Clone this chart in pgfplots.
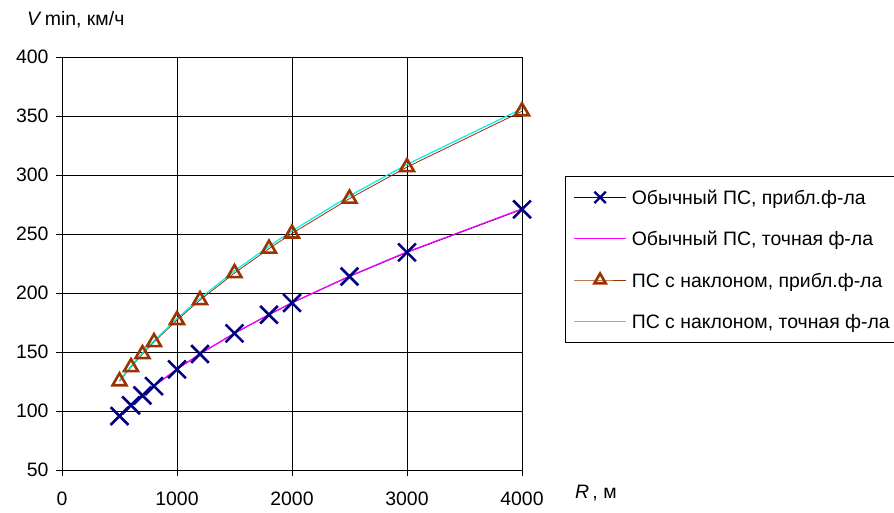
\documentclass[border=0pt]{standalone}
\usepackage{pgfplots}
\pgfplotsset{compat=1.18}
\usepackage{fontspec}
\setmainfont{Liberation Sans}
\definecolor{navyc}{RGB}{0,0,128}
\definecolor{brownc}{RGB}{153,51,0}
\definecolor{magc}{RGB}{255,0,255}
\definecolor{cyanc}{RGB}{0,240,240}
\begin{document}
\begin{tikzpicture}
\begin{axis}[
 scale only axis, width=460bp, height=413bp,
 xmin=0, xmax=4000, ymin=50, ymax=400,
 xtick={0,1000,2000,3000,4000}, ytick={50,100,...,400},
 grid=major, major grid style={black, line width=0.7bp},
 axis line style={black, line width=0.8bp},
 tick align=outside, major tick length=6bp, tick style={black, line width=0.8bp},
 xtick pos=left, ytick pos=left,
 font=\fontsize{19.5}{23}\selectfont,
 xticklabel style={yshift=-12bp},
 yticklabel style={xshift=-4bp},
 /pgf/number format/assume math mode=true,
 /pgf/number format/1000 sep={},
 clip=false,
 legend cell align=left,
 legend image code/.code={\draw[mark repeat=2,mark phase=2,#1] plot coordinates {(0bp,0bp)(26bp,0bp)(52bp,0bp)};},
 legend style={at={(rel axis cs:1,1)}, anchor=north west, xshift=43bp, yshift=-119bp,
   draw=black, line width=0.8bp, inner xsep=8bp, inner ysep=12bp,
   font=\fontsize{19.5}{23}\selectfont, row sep=23.3bp,
   nodes={inner xsep=5bp, inner ysep=0bp, text height=16bp, text depth=2bp}},
]
\addplot[draw=navyc, color=navyc, line width=0.8bp, mark=x, mark size=12.5bp, mark options={line width=2.6bp, solid},
  legend image post style={mark size=8bp, mark options={line width=2.3bp}}] coordinates {
(500,95.7)(600,104.8)(700,113.2)(800,121.1)(1000,135.3)(1200,148.3)(1500,165.8)(1800,181.6)(2000,191.6)(2500,214.0)(3000,234.4)(4000,270.9)};
\addlegendentry{Обычный ПС, прибл.ф-ла}
\addplot[draw=magc, color=magc, line width=1.2bp, mark=none, legend image post style={draw=magc, line width=1.3bp}] coordinates {
(500,95.9)(600,105.0)(700,113.4)(800,121.3)(1000,135.5)(1200,148.5)(1500,166.0)(1800,181.8)(2000,191.8)(2500,214.3)(3000,234.8)(4000,271.3)};
\addlegendentry{Обычный ПС, точная ф-ла}
\addplot[draw=brownc, color=brownc, line width=0.8bp, mark=triangle, mark size=8bp, mark options={line width=2.6bp, solid},
  legend image post style={mark size=6.5bp}] coordinates {
(500,125.2)(600,137.2)(700,148.2)(800,158.4)(1000,177.1)(1200,194.0)(1500,216.9)(1800,237.6)(2000,250.4)(2500,280.0)(3000,306.7)(4000,354.0)};
\addlegendentry{ПС с наклоном, прибл.ф-ла}
\addplot[draw=cyanc, color=cyanc, line width=1.2bp, mark=none, legend image post style={draw=cyanc, line width=1.4bp}] coordinates {
(500,126.0)(600,138.0)(700,149.2)(800,159.5)(1000,178.4)(1200,195.5)(1500,218.7)(1800,239.6)(2000,252.6)(2500,282.3)(3000,309.0)(4000,356.2)};
\addlegendentry{ПС с наклоном, точная ф-ла}
\node[anchor=base west, inner sep=0pt] at (rel axis cs:0,1) [xshift=-35bp, yshift=31bp] {\textit{V}\,min, км/ч};
\node[anchor=base west, inner sep=0pt] at (rel axis cs:1,0) [xshift=53bp, yshift=-28bp] {\textit{R}\,, м};
\end{axis}
\pgfresetboundingbox
\path[use as bounding box] (-62bp,-43bp) rectangle (832bp,470bp);
\end{tikzpicture}
\end{document}
